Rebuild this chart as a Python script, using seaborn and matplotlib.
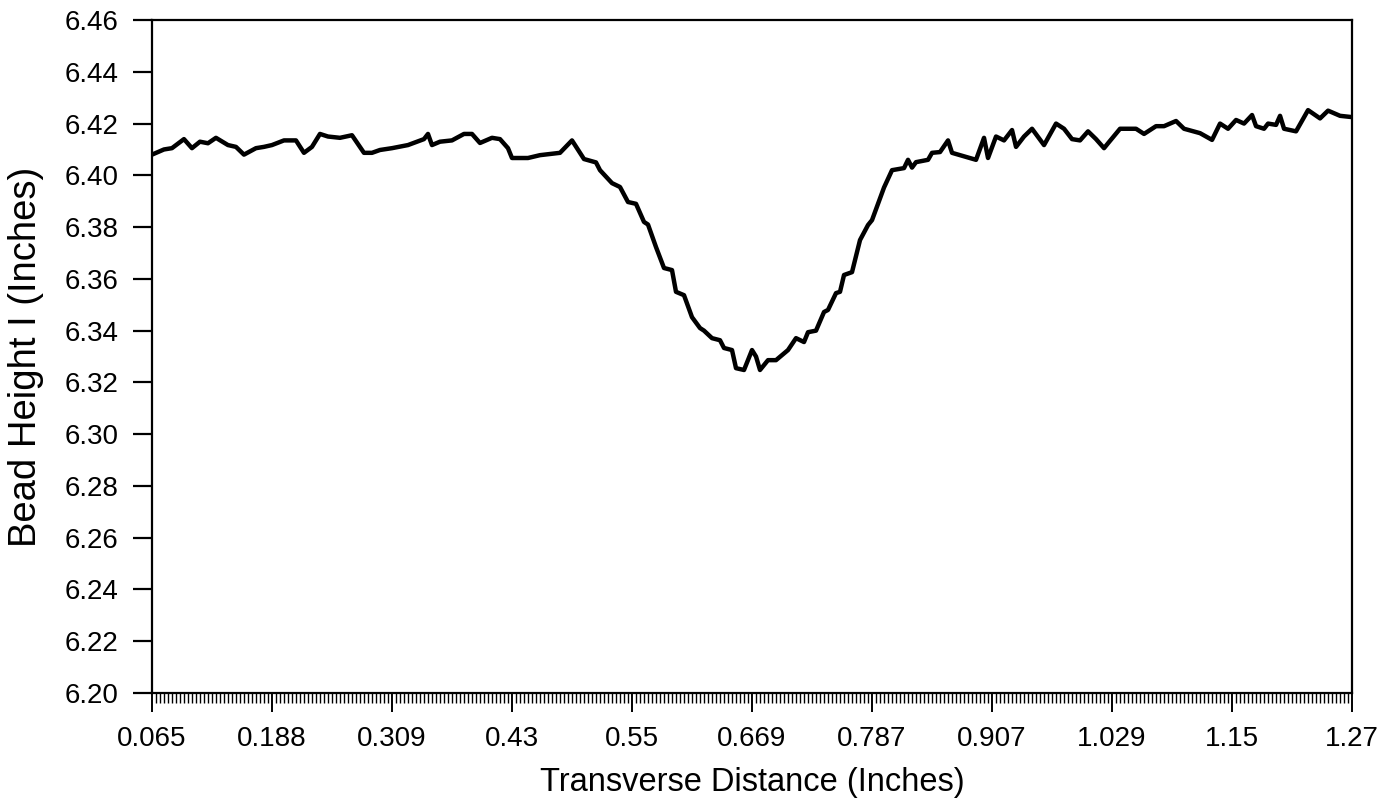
import matplotlib
matplotlib.use("Agg")
import matplotlib.pyplot as plt
import seaborn as sns
import pandas as pd
import numpy as np

# Scan profile: sample number along the transverse scan and measured bead height
sample_index = [
    0, 3, 5, 8, 10, 12, 14, 16, 19, 21, 23, 26, 28, 30, 33, 36, 38, 40, 42, 44,
    47, 50, 53, 55, 57, 60, 64, 68, 69, 70, 72, 75, 78, 80, 82, 85, 87, 89, 90, 94,
    97, 102, 105, 108, 111, 112, 115, 117, 119, 121, 123, 124, 126, 128, 130, 131,
    133, 135, 137, 138, 140, 142, 143, 145, 146, 148, 149, 150, 151, 152, 154, 156,
    159, 161, 163, 164, 166, 168, 169, 171, 172, 173, 175, 177, 179, 180, 183, 185,
    188, 189, 190, 191, 194, 195, 197, 199, 200, 206, 208, 209, 211, 213, 215, 216,
    218, 220, 223, 226, 228, 230, 232, 234, 236, 238, 239, 242, 246, 248, 251, 253,
    256, 258, 262, 265, 267, 269, 271, 273, 275, 276, 278, 279, 281, 282, 283, 286,
    289, 292, 294, 297, 300,
]
bead_height = [
    6.4080, 6.4100, 6.4105, 6.4140, 6.4105, 6.4130, 6.4124, 6.4145, 6.4117, 6.4110,
    6.4080, 6.4105, 6.4110, 6.4117, 6.4135, 6.4135, 6.4087, 6.4110, 6.4160, 6.4150,
    6.4145, 6.4155, 6.4087, 6.4087, 6.4098, 6.4105, 6.4117, 6.4140, 6.4160, 6.4117,
    6.4130, 6.4135, 6.4160, 6.4160, 6.4125, 6.4145, 6.4140, 6.4105, 6.4067, 6.4067,
    6.4078, 6.4087, 6.4135, 6.4063, 6.4050, 6.4020, 6.3970, 6.3955, 6.3897, 6.3890,
    6.3820, 6.3810, 6.3723, 6.3642, 6.3634, 6.3550, 6.3537, 6.3452, 6.3410, 6.3400,
    6.3371, 6.3363, 6.3333, 6.3325, 6.3255, 6.3248, 6.3286, 6.3325, 6.3300, 6.3248,
    6.3286, 6.3286, 6.3325, 6.3371, 6.3356, 6.3394, 6.3400, 6.3472, 6.3480, 6.3545,
    6.3550, 6.3615, 6.3626, 6.3750, 6.3808, 6.3827, 6.3953, 6.4020, 6.4028, 6.4060,
    6.4030, 6.4051, 6.4060, 6.4087, 6.4090, 6.4135, 6.4087, 6.4060, 6.4145, 6.4067,
    6.4150, 6.4135, 6.4175, 6.4110, 6.4150, 6.4180, 6.4117, 6.4200, 6.4180, 6.4140,
    6.4135, 6.4170, 6.4140, 6.4105, 6.4124, 6.4180, 6.4180, 6.4160, 6.4190, 6.4190,
    6.4210, 6.4180, 6.4163, 6.4137, 6.4200, 6.4180, 6.4214, 6.4200, 6.4233, 6.4190,
    6.4180, 6.4200, 6.4195, 6.4230, 6.4180, 6.4170, 6.4252, 6.4220, 6.4250, 6.4230,
    6.4225,
]

# Transverse distance (inches) shown at every 30th sample
distance_labels = ["0.065", "0.188", "0.309", "0.43", "0.55", "0.669",
                   "0.787", "0.907", "1.029", "1.15", "1.27"]
height_ticks = [6.20, 6.22, 6.24, 6.26, 6.28, 6.30, 6.32, 6.34,
                6.36, 6.38, 6.40, 6.42, 6.44, 6.46]

sns.set_theme(style="ticks")
plt.rcParams["font.family"] = ["Liberation Sans", "DejaVu Sans"]

df = pd.DataFrame({"sample": sample_index, "height": bead_height})

fig = plt.figure(figsize=(13.89, 8.02), dpi=100)
ax = fig.add_axes([0.1094, 0.1359, 0.8640, 0.8391])

sns.lineplot(data=df, x="sample", y="height", ax=ax, color="black",
             linewidth=3.2, estimator=None, sort=False)

n_samples = (len(distance_labels) - 1) * 30
ax.set_xlim(0, n_samples)
ax.set_ylim(height_ticks[0], height_ticks[-1])

ax.set_xticks(np.arange(0, n_samples + 1, 30))
ax.set_xticklabels(distance_labels)
ax.set_xticks(np.arange(0, n_samples + 1, 1), minor=True)
ax.set_yticks(height_ticks)
ax.set_yticklabels([f"{v:.2f}" for v in height_ticks])

ax.tick_params(axis="x", which="major", direction="out", length=14, width=1.4,
               labelsize=20, pad=10, colors="black")
ax.tick_params(axis="x", which="minor", direction="out", length=7, width=1.0,
               colors="black")
ax.tick_params(axis="y", which="major", direction="out", length=14, width=1.6,
               labelsize=20, pad=10, colors="black")

for side in ["left", "right", "top", "bottom"]:
    ax.spines[side].set_visible(True)
    ax.spines[side].set_linewidth(1.6)
    ax.spines[side].set_color("black")

ax.set_xlabel("Transverse Distance (Inches)", fontsize=23.5, color="black")
ax.set_ylabel("Bead Height I (Inches)", fontsize=27.5, color="black")
ax.xaxis.set_label_coords(0.5, -0.11)
ax.yaxis.set_label_coords(-0.09, 0.5)

fig.savefig("out.png", dpi=100, facecolor="white")
